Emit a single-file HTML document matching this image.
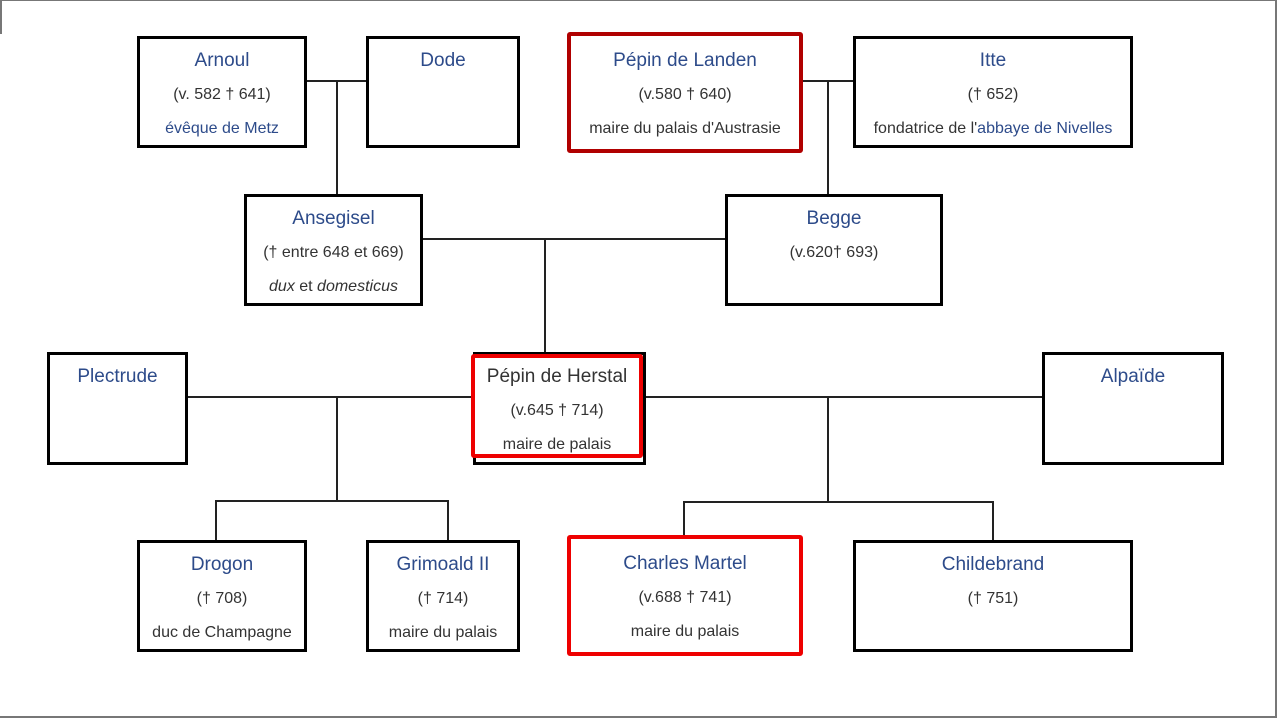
<!DOCTYPE html>
<html><head><meta charset="utf-8"><style>
body{margin:0;width:1277px;height:718px;background:#fff;position:relative;overflow:hidden;font-family:"Liberation Sans",Arial,sans-serif}
.b{position:absolute;box-sizing:border-box;border:3px solid #000;background:#fff;text-align:center;color:#333;font-size:16px;padding-top:5px}
.r{border:4px solid #e00;border-radius:3px;padding-top:8px}
.dr{border-color:#b00000}
.b div{height:34px;line-height:34px;white-space:nowrap}
.b .t{color:#2d4b8a;font-size:19px}
.h{position:absolute;height:1.5px;background:#222}
.v{position:absolute;width:1.5px;background:#222}
a{color:#2d4b8a}
</style></head><body>
<div style="position:absolute;left:0;top:0;width:1277px;height:1px;background:#777"></div>
<div style="position:absolute;left:0;top:0;width:2px;height:34px;background:#777"></div>
<div style="position:absolute;right:0;top:0;width:2px;height:718px;background:#777"></div>
<div style="position:absolute;left:0;bottom:0;width:1277px;height:2px;background:#777"></div>

<div class="h" style="left:306px;top:80px;width:60px"></div>
<div class="v" style="left:336px;top:80px;height:115px"></div>
<div class="h" style="left:802px;top:80px;width:52px"></div>
<div class="v" style="left:827px;top:80px;height:115px"></div>
<div class="h" style="left:422px;top:238px;width:304px"></div>
<div class="v" style="left:544px;top:238px;height:115px"></div>
<div class="h" style="left:187px;top:396px;width:286px"></div>
<div class="h" style="left:645px;top:396px;width:398px"></div>
<div class="v" style="left:336px;top:396px;height:105px"></div>
<div class="h" style="left:215px;top:500px;width:233px"></div>
<div class="v" style="left:215px;top:500px;height:41px"></div>
<div class="v" style="left:447px;top:500px;height:41px"></div>
<div class="v" style="left:827px;top:396px;height:106px"></div>
<div class="h" style="left:683px;top:501px;width:310px"></div>
<div class="v" style="left:683px;top:501px;height:36px"></div>
<div class="v" style="left:992px;top:501px;height:40px"></div>

<div class="b" style="left:137px;top:36px;width:170px;height:112px"><div class="t">Arnoul</div><div>(v. 582 † 641)</div><div><a>évêque de Metz</a></div></div>
<div class="b" style="left:366px;top:36px;width:154px;height:112px"><div class="t">Dode</div></div>
<div class="b r dr" style="left:567px;top:32px;width:236px;height:121px"><div class="t">Pépin de Landen</div><div>(v.580 † 640)</div><div>maire du palais d'Austrasie</div></div>
<div class="b" style="left:853px;top:36px;width:280px;height:112px"><div class="t">Itte</div><div>(† 652)</div><div>fondatrice de l'<a>abbaye de Nivelles</a></div></div>
<div class="b" style="left:244px;top:194px;width:179px;height:112px"><div class="t">Ansegisel</div><div>(† entre 648 et 669)</div><div><i>dux</i> et <i>domesticus</i></div></div>
<div class="b" style="left:725px;top:194px;width:218px;height:112px"><div class="t">Begge</div><div>(v.620† 693)</div></div>
<div class="b" style="left:47px;top:352px;width:141px;height:113px"><div class="t">Plectrude</div></div>
<div class="b" style="left:473px;top:352px;width:173px;height:113px"></div>
<div class="b r" style="left:471px;top:354px;width:172px;height:104px;padding-top:2px"><div class="t" style="color:#333">Pépin de Herstal</div><div>(v.645 † 714)</div><div style="height:26px">maire de palais</div></div>
<div class="b" style="left:1042px;top:352px;width:182px;height:113px"><div class="t">Alpaïde</div></div>
<div class="b" style="left:137px;top:540px;width:170px;height:112px"><div class="t">Drogon</div><div>(† 708)</div><div>duc de Champagne</div></div>
<div class="b" style="left:366px;top:540px;width:154px;height:112px"><div class="t">Grimoald II</div><div>(† 714)</div><div>maire du palais</div></div>
<div class="b r" style="left:567px;top:535px;width:236px;height:121px"><div class="t">Charles Martel</div><div>(v.688 † 741)</div><div>maire du palais</div></div>
<div class="b" style="left:853px;top:540px;width:280px;height:112px"><div class="t">Childebrand</div><div>(† 751)</div></div>
</body></html>
